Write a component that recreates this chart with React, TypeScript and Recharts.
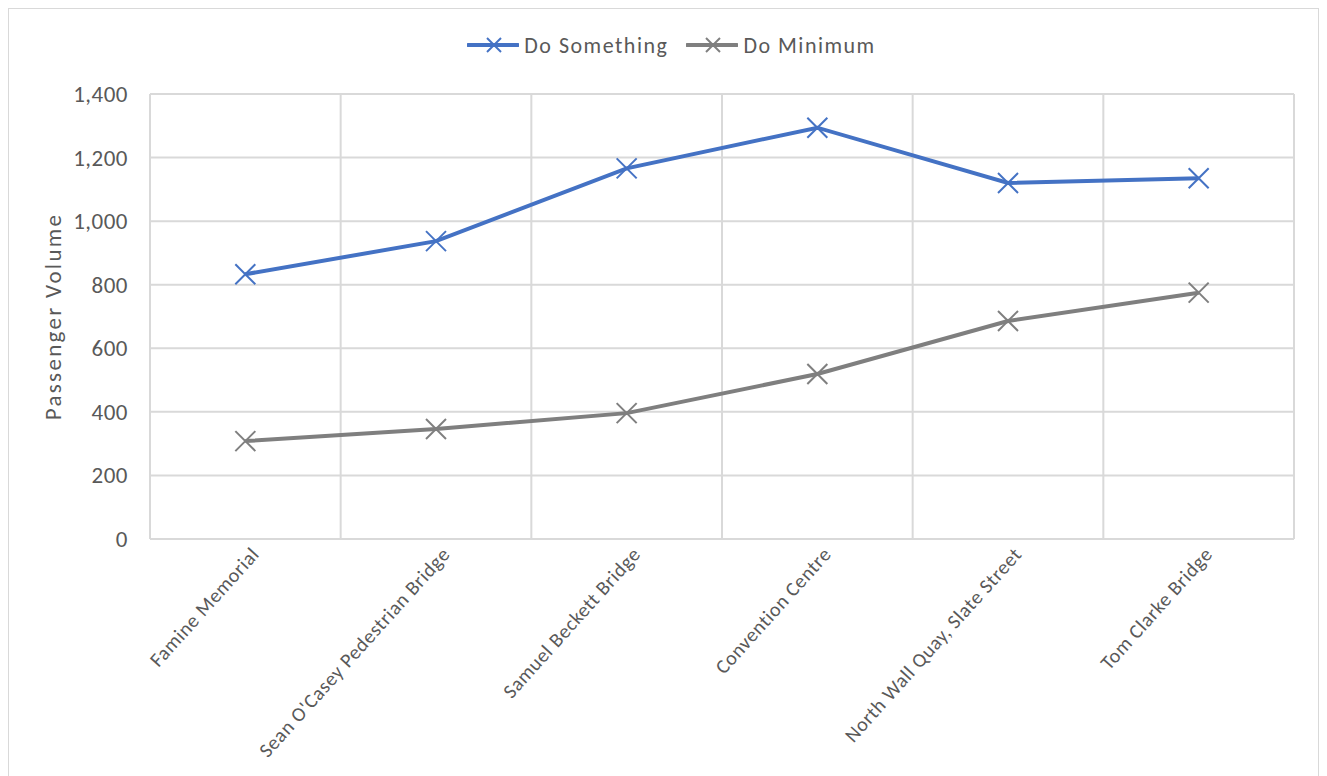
import { LineChart, Line, XAxis, YAxis, CartesianGrid, Legend } from 'recharts'

const categories = [
  'Famine Memorial',
  "Sean O'Casey Pedestrian Bridge",
  'Samuel Beckett Bridge',
  'Convention Centre',
  'North Wall Quay, Slate Street',
  'Tom Clarke Bridge',
]
const doSomething = [833, 937, 1166, 1294, 1120, 1135]
const doMinimum = [308, 346, 396, 519, 686, 775]
const yTicks = [0, 200, 400, 600, 800, 1000, 1200, 1400]

const SERIES = [
  { key: 'doSomething', name: 'Do Something', color: '#4472C4' },
  { key: 'doMinimum', name: 'Do Minimum', color: '#7F7F7F' },
]

const FONT = "Calibri, Carlito, 'Open Sans', sans-serif"
const TEXT = '#595959'
const GRID = '#D9D9D9'

const data = categories.map((name, i) => ({
  name,
  doSomething: doSomething[i],
  doMinimum: doMinimum[i],
}))

// Excel-style "x" marker
const xMarker = (color: string) => (props: any) => {
  const { cx, cy, index } = props
  if (cx == null || cy == null) return <g key={index} />
  const s = 10
  return (
    <g key={`m-${color}-${index}`}>
      <line x1={cx - s} y1={cy - s} x2={cx + s} y2={cy + s} stroke={color} strokeWidth={2} />
      <line x1={cx - s} y1={cy + s} x2={cx + s} y2={cy - s} stroke={color} strokeWidth={2} />
    </g>
  )
}

// category gridlines sit between the bands, like Excel
const bandLines = ({ offset }: any) =>
  categories.map((_, i) => offset.left + (i * offset.width) / categories.length).concat(offset.left + offset.width)

const XTick = ({ x, y, payload }: any) => {
  const tx = x + 15
  const ty = y + 8
  return (
    <text
      x={tx}
      y={ty}
      transform={`rotate(-48, ${tx}, ${ty})`}
      textAnchor="end"
      fill={TEXT}
      fontSize={20}
      letterSpacing={0.6}
      fontFamily={FONT}
    >
      {payload.value}
    </text>
  )
}

const YTick = ({ x, y, payload }: any) => (
  <text x={x - 14} y={y} dy={8} textAnchor="end" fill={TEXT} fontSize={23} letterSpacing={0.5} fontFamily={FONT}>
    {payload.value.toLocaleString('en-US')}
  </text>
)

const renderLegend = () => (
  <div
    style={{
      display: 'flex',
      justifyContent: 'center',
      alignItems: 'center',
      height: 30,
      paddingLeft: 58,
      fontFamily: FONT,
      fontSize: 22,
      color: TEXT,
      letterSpacing: 1.5,
    }}
  >
    {SERIES.map((s) => (
      <div key={s.key} style={{ display: 'flex', alignItems: 'center', marginRight: 18 }}>
        <svg width={52} height={20} style={{ marginRight: 5 }}>
          <line x1={1} y1={10} x2={51} y2={10} stroke={s.color} strokeWidth={4} strokeLinecap="round" />
          <line x1={20} y1={3} x2={34} y2={17} stroke={s.color} strokeWidth={2} />
          <line x1={20} y1={17} x2={34} y2={3} stroke={s.color} strokeWidth={2} />
        </svg>
        <span>{s.name}</span>
      </div>
    ))}
  </div>
)

export default function App() {
  return (
    <div style={{ width: 1309, height: 775, border: `1px solid ${GRID}`, background: '#fff' }}>
      <LineChart width={1309} height={775} data={data} margin={{ top: 55, right: 24, left: 0, bottom: 0 }}>
        <CartesianGrid stroke={GRID} strokeWidth={2} verticalCoordinatesGenerator={bandLines} />
        <XAxis
          dataKey="name"
          scale="band"
          interval={0}
          height={245}
          tick={<XTick />}
          tickLine={false}
          axisLine={{ stroke: GRID, strokeWidth: 2 }}
        />
        <YAxis
          width={141}
          domain={[0, 1400]}
          ticks={yTicks}
          tick={<YTick />}
          tickLine={false}
          axisLine={{ stroke: GRID, strokeWidth: 2 }}
          label={{
            value: 'Passenger Volume',
            angle: -90,
            position: 'insideLeft',
            offset: 44,
            style: { textAnchor: 'middle', fill: TEXT, fontSize: 23, letterSpacing: 2.3, fontFamily: FONT },
          }}
        />
        <Legend verticalAlign="top" content={renderLegend} wrapperStyle={{ top: 21 }} />
        {SERIES.map((s) => (
          <Line
            key={s.key}
            type="linear"
            dataKey={s.key}
            name={s.name}
            stroke={s.color}
            strokeWidth={4}
            dot={xMarker(s.color)}
            activeDot={false}
            isAnimationActive={false}
          />
        ))}
      </LineChart>
    </div>
  )
}
